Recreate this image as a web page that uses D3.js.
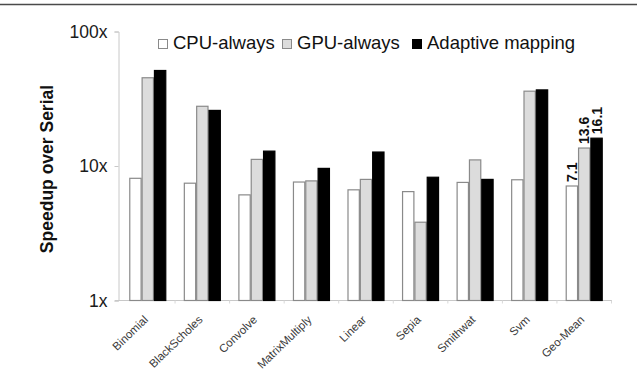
<!DOCTYPE html>
<html>
<head>
<meta charset="utf-8">
<script src="https://cdn.jsdelivr.net/npm/d3@7/dist/d3.min.js"></script>
<style>
  html, body { margin: 0; padding: 0; background: #fff; }
  svg { display: block; font-family: "Liberation Sans", Arial, sans-serif; }
</style>
</head>
<body>
<svg id="chart" width="637" height="377"></svg>
<script>
// Benchmarks and speedups over serial execution
const categories = ["Binomial", "BlackScholes", "Convolve", "MatrixMultiply", "Linear", "Sepia", "Smithwat", "Svm", "Geo-Mean"];
const seriesNames = ["CPU-always", "GPU-always", "Adaptive mapping"];
const cpuAlways = [8.1, 7.45, 6.1, 7.6, 6.65, 6.45, 7.55, 7.9, 7.1];
const gpuAlways = [45.3, 27.8, 11.2, 7.75, 7.95, 3.82, 11.1, 36.0, 13.6];
const adaptive  = [51.3, 25.9, 12.9, 9.6, 12.7, 8.25, 7.95, 36.8, 16.1];
const yTicks = [1, 10, 100];
const labelledCategory = "Geo-Mean";

const series = [cpuAlways, gpuAlways, adaptive];
const fills = ["#ffffff", "#dcdcdc", "#000000"];
const strokes = ["#8a8a8a", "#8a8a8a", "#000000"];

const svg = d3.select("#chart");

// top rule
svg.append("line")
  .attr("x1", 0).attr("x2", 637).attr("y1", 4.5).attr("y2", 4.5)
  .attr("stroke", "#4a4a4a").attr("stroke-width", 1.6);

const x = d3.scaleBand().domain(categories).range([120.5, 611.5]).padding(0);
const groupWidth = 37;
const xs = d3.scaleBand().domain(d3.range(series.length)).range([0, groupWidth]).padding(0);
const y = d3.scaleLog().domain([1, 100]).range([300.5, 31.5]);

// y axis
const yAxis = svg.append("g")
  .attr("transform", "translate(118.5,0)")
  .call(d3.axisLeft(y).tickValues(yTicks).tickFormat(d => d + "x").tickSize(4).tickPadding(7));
yAxis.selectAll("path, line").attr("stroke", "#c8c8c8");
yAxis.selectAll("text").attr("font-size", 17.5).attr("fill", "#1a1a1a")
  .attr("font-family", "Liberation Sans, Arial, sans-serif");

// x axis baseline with band-boundary ticks
const xAxis = svg.append("g")
  .attr("transform", "translate(0,300.5)");
xAxis.append("line")
  .attr("x1", 115).attr("x2", 612).attr("stroke", "#c8c8c8");
xAxis.selectAll("line.bt")
  .data(categories)
  .join("line")
  .attr("class", "bt")
  .attr("x1", d => x(d) + x.bandwidth()).attr("x2", d => x(d) + x.bandwidth())
  .attr("y1", 0).attr("y2", 3)
  .attr("stroke", "#d8d8d8");

// category labels
xAxis.selectAll("text.cat")
  .data(categories)
  .join("text")
  .attr("class", "cat")
  .attr("text-anchor", "end")
  .attr("transform", d => `translate(${x(d) + x.bandwidth() / 2 + 1},${20}) rotate(-44)`)
  .attr("font-size", 11.5)
  .attr("fill", "#3a3a3a")
  .text(d => d);

// bars
const groups = svg.append("g").selectAll("g")
  .data(categories)
  .join("g")
  .attr("transform", d => `translate(${x(d) + (x.bandwidth() - groupWidth) / 2},0)`);

const rowsFor = cat => {
  const i = categories.indexOf(cat);
  return series.map((s, k) => ({ k, v: s[i], cat }));
};

groups.selectAll("rect")
  .data(d => rowsFor(d))
  .join("rect")
  .attr("x", d => xs(d.k) + 0.5)
  .attr("width", xs.bandwidth() - 1)
  .attr("y", d => y(d.v))
  .attr("height", d => y(1) - y(d.v))
  .attr("fill", d => fills[d.k])
  .attr("stroke", d => strokes[d.k])
  .attr("stroke-width", 1.2);

// value labels
groups.filter(d => d === labelledCategory).selectAll("text")
  .data(d => rowsFor(d))
  .join("text")
  .attr("transform", d => `translate(${xs(d.k) + xs.bandwidth() / 2},${y(d.v) - 4}) rotate(-90)`)
  .attr("dy", "0.36em")
  .attr("font-size", 14)
  .attr("font-weight", "bold")
  .attr("fill", "#111")
  .text(d => d.v.toFixed(1));

// y title
svg.append("text")
  .attr("transform", "translate(53,169) rotate(-90)")
  .attr("text-anchor", "middle")
  .attr("font-size", 17.5)
  .attr("font-weight", "bold")
  .attr("fill", "#111")
  .text("Speedup over Serial");

// legend
const legendX = [158, 282, 412];
const legend = svg.append("g").selectAll("g")
  .data(seriesNames)
  .join("g")
  .attr("transform", (d, i) => `translate(${legendX[i]},39)`);
legend.append("rect")
  .attr("x", 0.5).attr("y", 0.5).attr("width", 9).attr("height", 9)
  .attr("fill", (d, i) => fills[i])
  .attr("stroke", (d, i) => strokes[i]).attr("stroke-width", 1);
legend.append("text")
  .attr("x", 15).attr("y", 10)
  .attr("font-size", 18.5)
  .attr("fill", "#111")
  .text(d => d);
</script>
</body>
</html>
